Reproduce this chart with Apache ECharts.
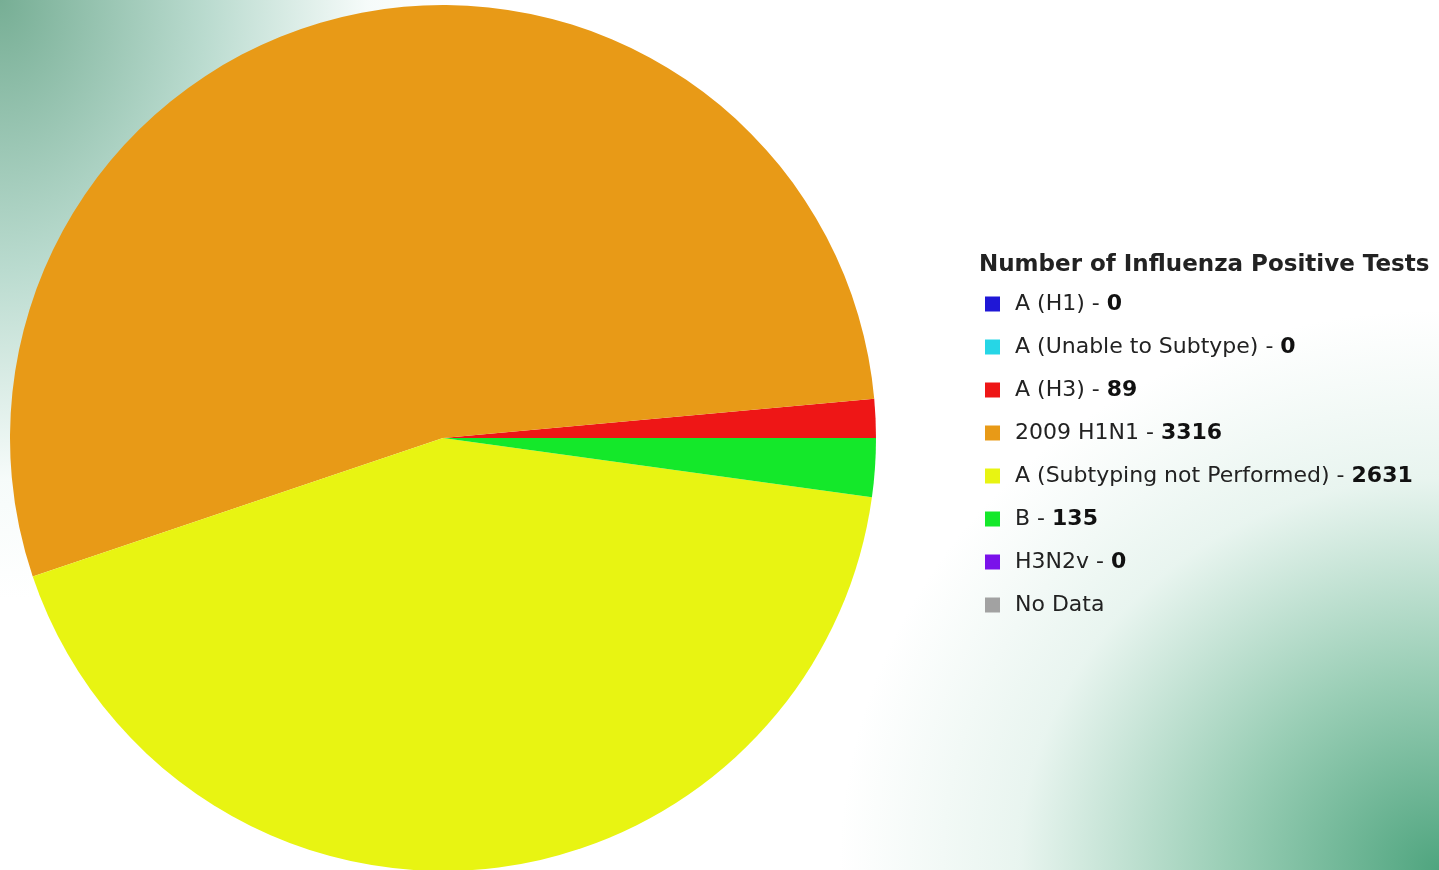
<!DOCTYPE html>
<html>
<head>
<meta charset="utf-8">
<script src="https://cdn.jsdelivr.net/npm/echarts@6/dist/echarts.min.js"></script>
<style>
html,body{margin:0;padding:0;width:1439px;height:870px;overflow:hidden;}
body{
  background:
    radial-gradient(ellipse 460px 600px at 0px 0px, rgba(95,160,130,0.85) 0%, rgba(140,195,175,0.6) 45%, rgba(220,240,235,0.25) 80%, rgba(255,255,255,0) 100%),
    radial-gradient(ellipse 600px 560px at 1439px 870px, rgba(70,160,120,0.95) 0%, rgba(110,185,150,0.7) 35%, rgba(190,225,210,0.35) 70%, rgba(255,255,255,0) 100%),
    #ffffff;
}
#chart{width:1439px;height:870px;}
</style>
</head>
<body>
<div id="chart"></div>
<script>
const categories = ['A (H1)', 'A (Unable to Subtype)', 'A (H3)', '2009 H1N1', 'A (Subtyping not Performed)', 'B', 'H3N2v', 'No Data'];
const values = [0, 0, 89, 3316, 2631, 135, 0, null];
const colors = ['#1f17d6', '#26d6e6', '#ee1616', '#e89a17', '#e8f412', '#14e82a', '#7a12ea', '#a2a2a2'];
const legendTitle = 'Number of Influenza Positive Tests';

const FONT = 'DejaVu Sans, Verdana, sans-serif';
const chart = echarts.init(document.getElementById('chart'));
const data = categories.map((c, i) => ({
  name: c,
  value: values[i] === null ? '-' : values[i],
  itemStyle: { color: colors[i] }
}));
chart.setOption({
  backgroundColor: 'transparent',
  animation: false,
  title: {
    text: legendTitle,
    left: 974, top: 249,
    textStyle: { fontFamily: FONT, fontSize: 23, fontWeight: 'bold', color: '#222' }
  },
  legend: {
    orient: 'vertical',
    left: 980, top: 288,
    itemWidth: 15, itemHeight: 15, itemGap: 21,
    icon: 'rect',
    data: categories,
    selectedMode: false,
    formatter: function (name) {
      const i = categories.indexOf(name);
      if (values[i] === null) return '{n|' + name + '}';
      return '{n|' + name + ' - }{v|' + values[i] + '}';
    },
    textStyle: {
      padding: [0, 0, 0, 10],
      rich: {
        n: { fontFamily: FONT, fontSize: 22, color: '#222', lineHeight: 22 },
        v: { fontFamily: FONT, fontSize: 22, fontWeight: 'bold', color: '#111', lineHeight: 22 }
      }
    }
  },
  series: [{
    type: 'pie',
    center: [443, 438],
    radius: [0, 433],
    startAngle: 0,
    clockwise: false,
    label: { show: false },
    labelLine: { show: false },
    emphasis: { disabled: true },
    itemStyle: { borderWidth: 0 },
    data: data
  }]
});
</script>
</body>
</html>
